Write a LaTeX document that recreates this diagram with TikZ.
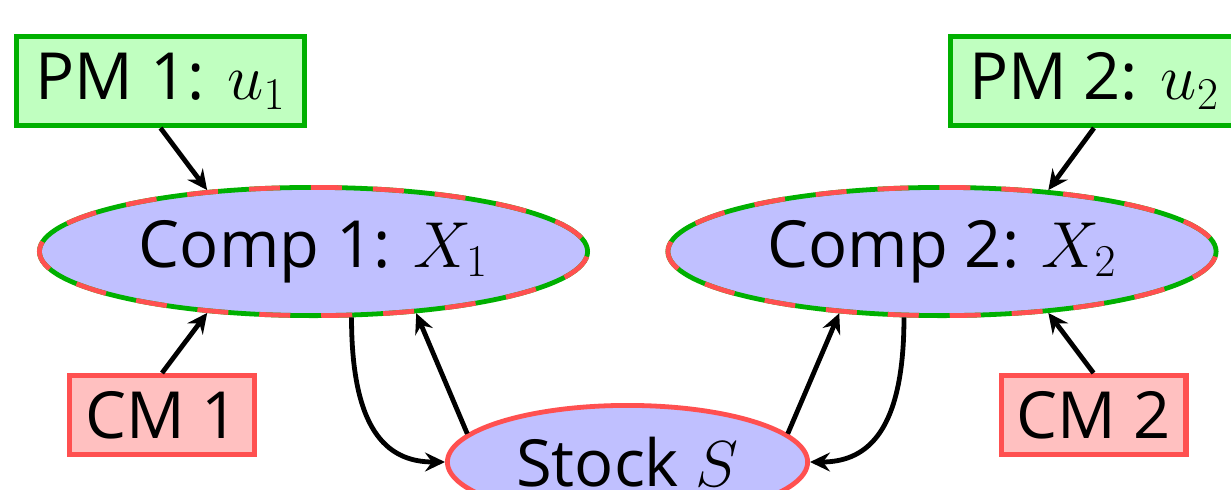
\documentclass[tikz,border=0pt]{standalone}
\usepackage{fix-cm}
\usepackage{fontspec}
\setmainfont{Open Sans}
\usetikzlibrary{shapes.geometric,arrows.meta}
\definecolor{gfill}{HTML}{C0FFC0}
\definecolor{gline}{HTML}{00B000}
\definecolor{rline}{HTML}{FF5050}
\definecolor{rfill}{HTML}{FFC0C0}
\definecolor{bfill}{HTML}{C0C0FF}
\begin{document}
\begin{tikzpicture}[x=0.5pt,y=-0.5pt,
  every node/.style={font=\fontsize{32.5}{39}\selectfont, inner sep=0pt},
  pmbox/.style={rectangle, draw=gline, fill=gfill, line width=2.6pt, minimum width=143.9pt, minimum height=44.4pt},
  cmbox/.style={rectangle, draw=rline, fill=rfill, line width=2.6pt, minimum width=92.4pt, minimum height=39.4pt},
  compell/.style={ellipse, draw=gline, fill=bfill, line width=2.4pt, minimum width=274.1pt, minimum height=64.1pt,
    postaction={draw=rline, line width=2.4pt, dash pattern=on 15.5pt off 15.5pt, dash phase=23.25pt}},
  stockell/.style={ellipse, draw=rline, fill=bfill, line width=2.4pt, minimum width=180.1pt, minimum height=56.6pt},
  arr/.style={-{Stealth[length=10pt,width=9.5pt,inset=3.5pt]}, line width=2.4pt, black}]
\path[use as bounding box, clip] (0,0) rectangle (1231,489);
\node[pmbox] (pm1) at (160.5,81) {PM 1: $u_1$};
\node[pmbox] (pm2) at (1094,81) {PM 2: $u_2$};
\node[cmbox] (cm1) at (162,415) {CM 1};
\node[cmbox] (cm2) at (1093.5,415) {CM 2};
\node[compell] (c1) at (313.5,251.5) {Comp 1: $X_1$};
\node[compell] (c2) at (942,251.5) {Comp 2: $X_2$};
\node[stockell] (s) at (627.5,462) {Stock $S$};
\draw[arr] (pm1.south) -- (c1.150);
\draw[arr] (cm1.north) -- (c1.210);
\draw[arr] (c1.300) .. controls +(0,110) and +(-60,0) .. (s.west);
\draw[arr] (s.170) -- (c1.329);
\draw[arr] (pm2.south) -- (c2.30);
\draw[arr] (cm2.north) -- (c2.330);
\draw[arr] (c2.240) .. controls +(0,110) and +(60,0) .. (s.east);
\draw[arr] (s.10) -- (c2.211);
\end{tikzpicture}
\end{document}
